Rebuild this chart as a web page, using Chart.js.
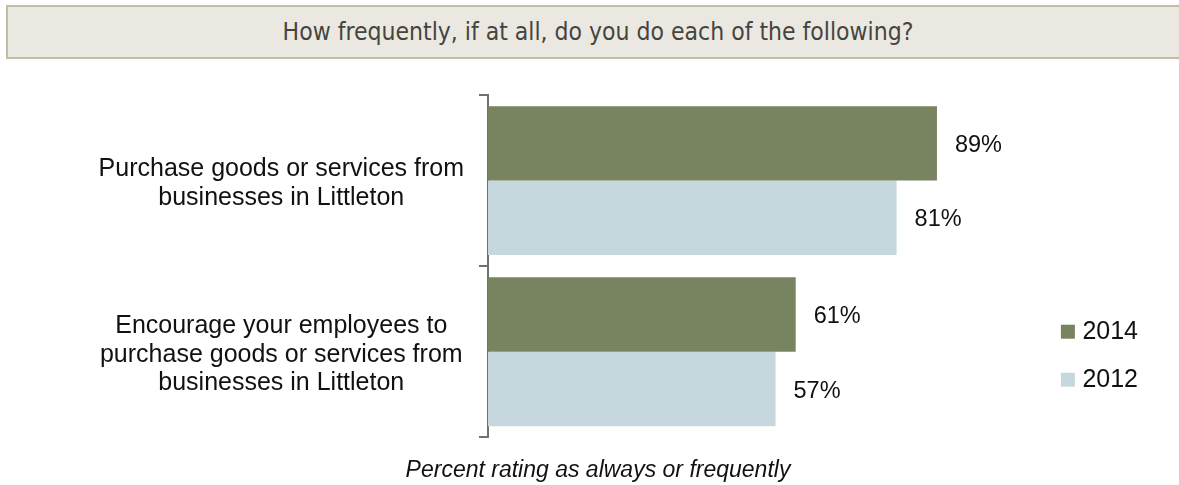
<!DOCTYPE html>
<html>
<head>
<meta charset="utf-8">
<script src="https://cdn.jsdelivr.net/npm/chart.js@4.4.1/dist/chart.umd.min.js"></script>
<style>
  html, body { margin: 0; padding: 0; background: #fff; width: 1179px; height: 485px; overflow: hidden; }
  #chart { position: absolute; left: 0; top: 0; }
  #question {
    position: absolute; left: 6px; top: 5px; width: 1190px; height: 54px;
    box-sizing: border-box; background: #ebe8e1; border: 2px solid #c5bca8;
    display: flex; align-items: center; justify-content: center;
    font-family: "Liberation Sans Narrow", "DejaVu Sans Condensed", "Liberation Sans", sans-serif;
    font-stretch: condensed; font-size: 24.5px; color: #45443f; z-index: 1;
  }
  #question span { position: relative; left: -3px; top: -1px; }
</style>
</head>
<body>
<div id="question"><span>How frequently, if at all, do you do each of the following?</span></div>
<canvas id="chart" width="1179" height="485"></canvas>
<script>
// Survey items (multi-line category labels)
const categories = [
  ["Purchase goods or services from", "businesses in Littleton"],
  ["Encourage your employees to", "purchase goods or services from", "businesses in Littleton"]
];
const seriesNames = ["2014", "2012"];
const values2014 = [89, 61];
const values2012 = [81, 57];
const footnote = "Percent rating as always or frequently";

const FONT = "'Liberation Sans', Arial, sans-serif";

// Writes each bar's value as a percentage just past the bar end
const valueLabels = {
  id: 'valueLabels',
  afterDatasetsDraw(chart) {
    const ctx = chart.ctx;
    ctx.save();
    ctx.font = "23.5px " + FONT;
    ctx.fillStyle = "#111";
    ctx.textAlign = "left";
    ctx.textBaseline = "middle";
    chart.data.datasets.forEach((ds, di) => {
      const meta = chart.getDatasetMeta(di);
      meta.data.forEach((bar, i) => {
        ctx.fillText(ds.data[i] + "%", bar.x + 18, bar.y + 2);
      });
    });
    ctx.restore();
  }
};

new Chart(document.getElementById('chart'), {
  type: 'bar',
  data: {
    labels: categories,
    datasets: [
      { label: seriesNames[0], data: values2014, backgroundColor: '#788460' },
      { label: seriesNames[1], data: values2012, backgroundColor: '#c6d8de' }
    ]
  },
  options: {
    indexAxis: 'y',
    responsive: false,
    animation: false,
    layout: { padding: { top: 95, left: 48, right: 31, bottom: 0 } },
    datasets: { bar: { categoryPercentage: 0.87, barPercentage: 1.0 } },
    scales: {
      x: { display: false, min: 0, max: 110 },
      y: {
        type: 'category',
        afterFit(scale) { scale.width = 440; },
        grid: {
          display: true, drawOnChartArea: false, drawTicks: true,
          tickLength: 9, offset: true, color: '#707070', lineWidth: 2
        },
        border: { display: true, color: '#707070', width: 2 },
        ticks: {
          crossAlign: 'center', padding: 15, labelOffset: 3, color: '#111',
          font: { family: FONT, size: 25, lineHeight: 1.15 }
        }
      }
    },
    plugins: {
      legend: {
        position: 'right',
        align: 'start',
        title: { display: true, text: ' ', padding: { top: 200, bottom: 0 }, font: { size: 1 } },
        labels: {
          usePointStyle: true, pointStyle: 'rect',
          boxWidth: 4, boxHeight: 14, padding: 23, color: '#111',
          font: { family: FONT, size: 25 }
        }
      },
      title: {
        display: true, position: 'bottom', text: footnote, color: '#111',
        font: { family: FONT, size: 23, style: 'italic', weight: 'normal', lineHeight: 1.2 },
        padding: { top: 19, bottom: 1 }
      },
      tooltip: { enabled: false }
    }
  },
  plugins: [valueLabels]
});
</script>
</body>
</html>
